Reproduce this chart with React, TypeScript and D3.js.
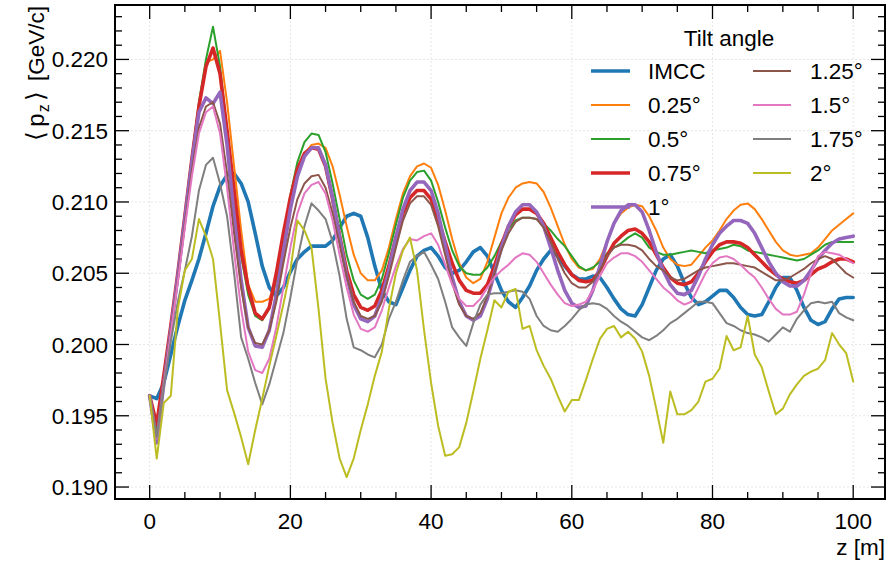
import React from 'react';
import * as d3 from 'd3';

// z positions [m]
const zValues: number[] = d3.range(0, 101);

const seriesNames = ['IMCC', '0.25°', '0.5°', '0.75°', '1°', '1.25°', '1.5°', '1.75°', '2°'];
const seriesColors = ['#1f77b4', '#ff7f0e', '#2ca02c', '#d62728', '#9467bd', '#8c564b', '#e377c2', '#7f7f7f', '#bcbd22'];
const seriesThick = [true, false, false, true, true, false, false, false, false];

const imcc = [
  0.1964,0.1962,0.1973,0.1993,0.2013,0.2031,0.2045,0.2060,0.2078,0.2097,
  0.2111,0.2119,0.2120,0.2113,0.2100,0.2078,0.2055,0.2040,0.2034,0.2040,
  0.2051,0.2060,0.2065,0.2069,0.2069,0.2069,0.2073,0.2082,0.2090,0.2092,
  0.2090,0.2075,0.2055,0.2038,0.2030,0.2028,0.2040,0.2052,0.2062,0.2066,
  0.2068,0.2062,0.2054,0.2050,0.2052,0.2058,0.2065,0.2068,0.2062,0.2050,
  0.2038,0.2030,0.2026,0.2033,0.2041,0.2052,0.2060,0.2066,0.2062,0.2055,
  0.2049,0.2046,0.2046,0.2048,0.2047,0.2040,0.2032,0.2025,0.2021,0.2020,
  0.2028,0.2040,0.2052,0.2060,0.2063,0.2055,0.2043,0.2033,0.2028,0.2030,
  0.2034,0.2038,0.2038,0.2033,0.2026,0.2021,0.2020,0.2021,0.2030,0.2040,
  0.2047,0.2047,0.2038,0.2026,0.2017,0.2014,0.2016,0.2025,0.2032,0.2033,
  0.2033];

const tilt025 = [
  0.1964,0.1942,0.1978,0.2013,0.2050,0.2090,0.2130,0.2168,0.2198,0.2200,
  0.2206,0.2170,0.2125,0.2080,0.2042,0.2030,0.2030,0.2032,0.2045,0.2070,
  0.2098,0.2120,0.2134,0.2140,0.2141,0.2138,0.2125,0.2105,0.2083,0.2063,
  0.2050,0.2045,0.2045,0.2052,0.2068,0.2088,0.2106,0.2118,0.2125,0.2127,
  0.2124,0.2112,0.2094,0.2074,0.2057,0.2047,0.2043,0.2046,0.2058,0.2075,
  0.2092,0.2103,0.2110,0.2113,0.2114,0.2113,0.2107,0.2096,0.2083,0.2070,
  0.2060,0.2054,0.2052,0.2053,0.2060,0.2072,0.2085,0.2092,0.2096,0.2098,
  0.2097,0.2090,0.2080,0.2068,0.2060,0.2056,0.2055,0.2056,0.2062,0.2068,
  0.2073,0.2080,0.2088,0.2094,0.2098,0.2099,0.2095,0.2088,0.2080,0.2072,
  0.2066,0.2063,0.2062,0.2063,0.2064,0.2068,0.2074,0.2080,0.2084,0.2088,
  0.2092];

const tilt050 = [
  0.1964,0.1940,0.1978,0.2013,0.2050,0.2090,0.2132,0.2170,0.2200,0.2223,
  0.2195,0.2150,0.2102,0.2062,0.2035,0.2020,0.2017,0.2025,0.2045,0.2075,
  0.2105,0.2128,0.2142,0.2148,0.2147,0.2135,0.2113,0.2088,0.2063,0.2045,
  0.2035,0.2032,0.2035,0.2046,0.2064,0.2084,0.2103,0.2115,0.2121,0.2122,
  0.2115,0.2100,0.2082,0.2066,0.2055,0.2050,0.2049,0.2049,0.2054,0.2062,
  0.2072,0.2081,0.2087,0.2089,0.2089,0.2088,0.2085,0.2080,0.2074,0.2069,
  0.2062,0.2055,0.2052,0.2054,0.2058,0.2064,0.2068,0.2071,0.2075,0.2078,
  0.2075,0.2068,0.2065,0.2063,0.2063,0.2064,0.2065,0.2066,0.2065,0.2064,
  0.2066,0.2067,0.2068,0.2070,0.2069,0.2066,0.2065,0.2064,0.2063,0.2062,
  0.2061,0.2060,0.2059,0.2060,0.2063,0.2066,0.2070,0.2072,0.2072,0.2072,
  0.2072];

const tilt075 = [
  0.1964,0.1944,0.1978,0.2013,0.2050,0.2090,0.2130,0.2167,0.2195,0.2208,
  0.2190,0.2150,0.2108,0.2066,0.2040,0.2022,0.2018,0.2026,0.2050,0.2078,
  0.2103,0.2123,0.2134,0.2138,0.2137,0.2125,0.2102,0.2076,0.2052,0.2035,
  0.2026,0.2024,0.2027,0.2038,0.2055,0.2075,0.2092,0.2103,0.2108,0.2108,
  0.2102,0.2088,0.2072,0.2057,0.2045,0.2038,0.2036,0.2036,0.2042,0.2055,
  0.2070,0.2083,0.2091,0.2095,0.2095,0.2092,0.2085,0.2075,0.2065,0.2056,
  0.2049,0.2045,0.2044,0.2045,0.2052,0.2062,0.2071,0.2076,0.2080,0.2081,
  0.2078,0.2072,0.2063,0.2054,0.2047,0.2043,0.2042,0.2044,0.2050,0.2058,
  0.2065,0.2070,0.2072,0.2072,0.2071,0.2068,0.2063,0.2058,0.2053,0.2049,
  0.2046,0.2044,0.2043,0.2045,0.2049,0.2053,0.2055,0.2058,0.2060,0.2060,
  0.2058];

const tilt100 = [
  0.1964,0.1931,0.1972,0.2010,0.2048,0.2088,0.2128,0.2163,0.2173,0.2169,
  0.2177,0.2140,0.2090,0.2045,0.2012,0.1999,0.1998,0.2010,0.2035,0.2065,
  0.2095,0.2118,0.2132,0.2138,0.2138,0.2126,0.2103,0.2075,0.2048,0.2028,
  0.2018,0.2016,0.2020,0.2033,0.2052,0.2075,0.2095,0.2108,0.2114,0.2114,
  0.2108,0.2092,0.2070,0.2047,0.2030,0.2020,0.2017,0.2020,0.2032,0.2050,
  0.2068,0.2083,0.2093,0.2098,0.2098,0.2093,0.2083,0.2068,0.2052,0.2038,
  0.2029,0.2026,0.2027,0.2038,0.2055,0.2072,0.2085,0.2094,0.2098,0.2098,
  0.2093,0.2080,0.2065,0.2052,0.2042,0.2036,0.2035,0.2038,0.2048,0.2060,
  0.2070,0.2078,0.2083,0.2087,0.2087,0.2085,0.2078,0.2068,0.2058,0.2050,
  0.2044,0.2041,0.2041,0.2045,0.2052,0.2060,0.2066,0.2071,0.2074,0.2075,
  0.2076];

const tilt125 = [
  0.1964,0.1936,0.1974,0.2010,0.2046,0.2085,0.2122,0.2152,0.2167,0.2170,
  0.2155,0.2120,0.2078,0.2040,0.2012,0.2001,0.2000,0.2010,0.2030,0.2057,
  0.2082,0.2102,0.2113,0.2118,0.2119,0.2110,0.2092,0.2070,0.2048,0.2030,
  0.2020,0.2018,0.2020,0.2030,0.2048,0.2068,0.2087,0.2099,0.2104,0.2104,
  0.2098,0.2083,0.2063,0.2043,0.2028,0.2020,0.2018,0.2022,0.2034,0.2050,
  0.2066,0.2078,0.2086,0.2089,0.2089,0.2088,0.2082,0.2072,0.2060,0.2050,
  0.2043,0.2040,0.2040,0.2044,0.2052,0.2062,0.2068,0.2070,0.2070,0.2069,
  0.2066,0.2060,0.2055,0.2052,0.2047,0.2045,0.2046,0.2049,0.2052,0.2054,
  0.2055,0.2056,0.2057,0.2057,0.2056,0.2055,0.2054,0.2051,0.2048,0.2045,
  0.2045,0.2047,0.2050,0.2053,0.2057,0.2060,0.2062,0.2060,0.2055,0.2050,
  0.2047];

const tilt150 = [
  0.1964,0.1934,0.1972,0.2008,0.2044,0.2082,0.2118,0.2148,0.2163,0.2167,
  0.2148,0.2110,0.2065,0.2025,0.1995,0.1982,0.1980,0.1990,0.2012,0.2040,
  0.2068,0.2092,0.2106,0.2112,0.2114,0.2106,0.2087,0.2063,0.2040,0.2021,
  0.2011,0.2009,0.2012,0.2024,0.2040,0.2055,0.2067,0.2074,0.2073,0.2076,
  0.2078,0.2070,0.2056,0.2042,0.2032,0.2027,0.2027,0.2032,0.2040,0.2047,
  0.2052,0.2056,0.2061,0.2064,0.2063,0.2058,0.2050,0.2042,0.2035,0.2029,
  0.2027,0.2028,0.2030,0.2038,0.2048,0.2057,0.2061,0.2064,0.2064,0.2062,
  0.2058,0.2052,0.2046,0.2040,0.2036,0.2031,0.2028,0.2030,0.2040,0.2050,
  0.2057,0.2061,0.2062,0.2060,0.2056,0.2051,0.2047,0.2040,0.2032,0.2025,
  0.2021,0.2021,0.2023,0.2035,0.2050,0.2062,0.2065,0.2064,0.2063,0.2060,
  0.2057];

const tilt175 = [
  0.1964,0.1935,0.1970,0.2002,0.2030,0.2052,0.2076,0.2108,0.2126,0.2131,
  0.2113,0.2090,0.2050,0.2005,0.1990,0.1973,0.1958,0.1972,0.1990,0.2008,
  0.2033,0.2060,0.2083,0.2099,0.2094,0.2088,0.2072,0.2048,0.2018,0.1998,
  0.1996,0.1993,0.1991,0.2000,0.2018,0.2030,0.2045,0.2058,0.2062,0.2065,
  0.2056,0.2046,0.2030,0.2012,0.2005,0.1999,0.2015,0.2028,0.2035,0.2036,
  0.2036,0.2037,0.2038,0.2037,0.2032,0.2020,0.2013,0.2010,0.2009,0.2013,
  0.2018,0.2024,0.2028,0.2029,0.2028,0.2025,0.2020,0.2016,0.2013,0.2009,
  0.2005,0.2003,0.2006,0.2010,0.2015,0.2018,0.2022,0.2026,0.2030,0.2030,
  0.2029,0.2022,0.2015,0.2013,0.2010,0.2008,0.2007,0.2005,0.2002,0.2007,
  0.2012,0.2009,0.2018,0.2024,0.2029,0.2030,0.2029,0.2030,0.2022,0.2019,
  0.2017];

const tilt200 = [
  0.1964,0.1920,0.1959,0.1964,0.2025,0.2052,0.2060,0.2088,0.2076,0.2060,
  0.2015,0.1968,0.1952,0.1935,0.1916,0.1940,0.1962,0.1985,0.2006,0.2028,
  0.2052,0.2087,0.2080,0.2068,0.2025,0.1976,0.1945,0.1920,0.1907,0.1920,
  0.1940,0.1958,0.1978,0.1995,0.2025,0.2050,0.2066,0.2075,0.2052,0.2010,
  0.1973,0.1943,0.1922,0.1923,0.1928,0.1945,0.1967,0.1990,0.2010,0.2031,
  0.2026,0.2037,0.2039,0.2011,0.2013,0.1996,0.1985,0.1976,0.1964,0.1953,
  0.1961,0.1961,0.1975,0.1990,0.2004,0.2011,0.2013,0.2005,0.2009,0.2004,
  0.1995,0.1978,0.1955,0.1931,0.1967,0.1951,0.1951,0.1954,0.1960,0.1974,
  0.1976,0.1983,0.2006,0.1996,0.1998,0.2020,0.1993,0.1984,0.1967,0.1951,
  0.1955,0.1965,0.1972,0.1978,0.1981,0.1983,0.1989,0.2008,0.2000,0.1994,
  0.1974];

const seriesValues = [imcc, tilt025, tilt050, tilt075, tilt100, tilt125, tilt150, tilt175, tilt200];

const xMajorTicks = [0, 20, 40, 60, 80, 100];
const xMinorTicks = [5, 10, 15, 25, 30, 35, 45, 50, 55, 65, 70, 75, 85, 90, 95, 105];
const yMajorTicks = [0.190, 0.195, 0.200, 0.205, 0.210, 0.215, 0.220];
const yMinorTicks = d3.range(190, 224).map((v) => v / 1000).filter((v) => Math.round(v * 1000) % 5 !== 0);

const W = 893;
const H = 563;
const L = 115, R = 885, T = 5, B = 499;
const FONT = "'Liberation Sans', Arial, Helvetica, sans-serif";

export default function App() {
  const x = d3.scaleLinear().domain([-4.93, 104.52]).range([L, R]);
  const y = d3.scaleLinear().domain([0.18916, 0.22382]).range([B, T]);
  const line = d3.line<number>().x((_, i) => x(zValues[i])).y((d) => y(d));

  const legendRowY = (i: number) => 71 + 34 * i;
  const legendItems = seriesNames.map((name, i) => {
    const col = i < 5 ? 0 : 1;
    const row = i < 5 ? i : i - 5;
    return { name, i, col, row };
  });

  const major = 14, minor = 7;

  return (
    <svg width={W} height={H} style={{ position: 'absolute', left: 0, top: 0, background: '#fff' }} fontFamily={FONT}>
      <rect x={0} y={0} width={W} height={H} fill="#fff" />
      {/* grid */}
      <g stroke="#e6e6e6" strokeWidth={1} strokeDasharray="2,2">
        {xMajorTicks.map((t) => <line key={'gx' + t} x1={x(t)} x2={x(t)} y1={T} y2={B} />)}
        {yMajorTicks.map((t) => <line key={'gy' + t} x1={L} x2={R} y1={y(t)} y2={y(t)} />)}
      </g>
      {/* data lines */}
      <g fill="none" strokeLinejoin="round" strokeLinecap="round">
        {seriesValues.map((vals, i) => (
          <path key={seriesNames[i]} d={line(vals) || ''} stroke={seriesColors[i]} strokeWidth={seriesThick[i] ? 3.6 : 2} />
        ))}
      </g>
      {/* ticks */}
      <g stroke="#000" strokeWidth={1.3}>
        {xMajorTicks.map((t) => (
          <g key={'xt' + t}>
            <line x1={x(t)} x2={x(t)} y1={B} y2={B - major} />
            <line x1={x(t)} x2={x(t)} y1={T} y2={T + major} />
          </g>
        ))}
        {xMinorTicks.filter((t) => x(t) < R - 1).map((t) => (
          <g key={'xm' + t}>
            <line x1={x(t)} x2={x(t)} y1={B} y2={B - minor} />
            <line x1={x(t)} x2={x(t)} y1={T} y2={T + minor} />
          </g>
        ))}
        {yMajorTicks.map((t) => (
          <g key={'yt' + t}>
            <line x1={L} x2={L + major} y1={y(t)} y2={y(t)} />
            <line x1={R} x2={R - major} y1={y(t)} y2={y(t)} />
          </g>
        ))}
        {yMinorTicks.map((t) => (
          <g key={'ym' + t}>
            <line x1={L} x2={L + minor} y1={y(t)} y2={y(t)} />
            <line x1={R} x2={R - minor} y1={y(t)} y2={y(t)} />
          </g>
        ))}
      </g>
      {/* frame */}
      <rect x={L} y={T} width={R - L} height={B - T} fill="none" stroke="#000" strokeWidth={2} />
      {/* tick labels */}
      <g fontSize={22.5} fill="#000">
        {xMajorTicks.map((t) => (
          <text key={'xl' + t} x={x(t)} y={529} textAnchor="middle">{String(t)}</text>
        ))}
        {yMajorTicks.map((t) => (
          <text key={'yl' + t} x={108} y={y(t) + 8} textAnchor="end">{d3.format('.3f')(t)}</text>
        ))}
      </g>
      {/* axis labels */}
      <text x={885} y={555} textAnchor="end" fontSize={22.5}>z [m]</text>
      <text transform="translate(44,6) rotate(-90)" textAnchor="end" fontSize={22.5}>
        <tspan fontSize={25}>⟨</tspan>
        <tspan dx={4} fontSize={24}>p</tspan>
        <tspan dx={1} dy={5} fontSize={16}>z</tspan>
        <tspan dx={3} dy={-5} fontSize={25}>⟩</tspan>
        <tspan dx={4}> [GeV/c]</tspan>
      </text>
      {/* legend */}
      <text x={729} y={46} textAnchor="middle" fontSize={22.5}>Tilt angle</text>
      {legendItems.map(({ name, i, col, row }) => {
        const x1 = col === 0 ? 591 : 753;
        const x2 = col === 0 ? 630 : 791;
        const tx = col === 0 ? 648 : 810;
        const yy = legendRowY(row);
        return (
          <g key={'lg' + name}>
            <line x1={x1} x2={x2} y1={yy} y2={yy} stroke={seriesColors[i]} strokeWidth={seriesThick[i] ? 3.6 : 2} />
            <text x={tx} y={yy + 8} fontSize={22.5}>{name}</text>
          </g>
        );
      })}
    </svg>
  );
}
